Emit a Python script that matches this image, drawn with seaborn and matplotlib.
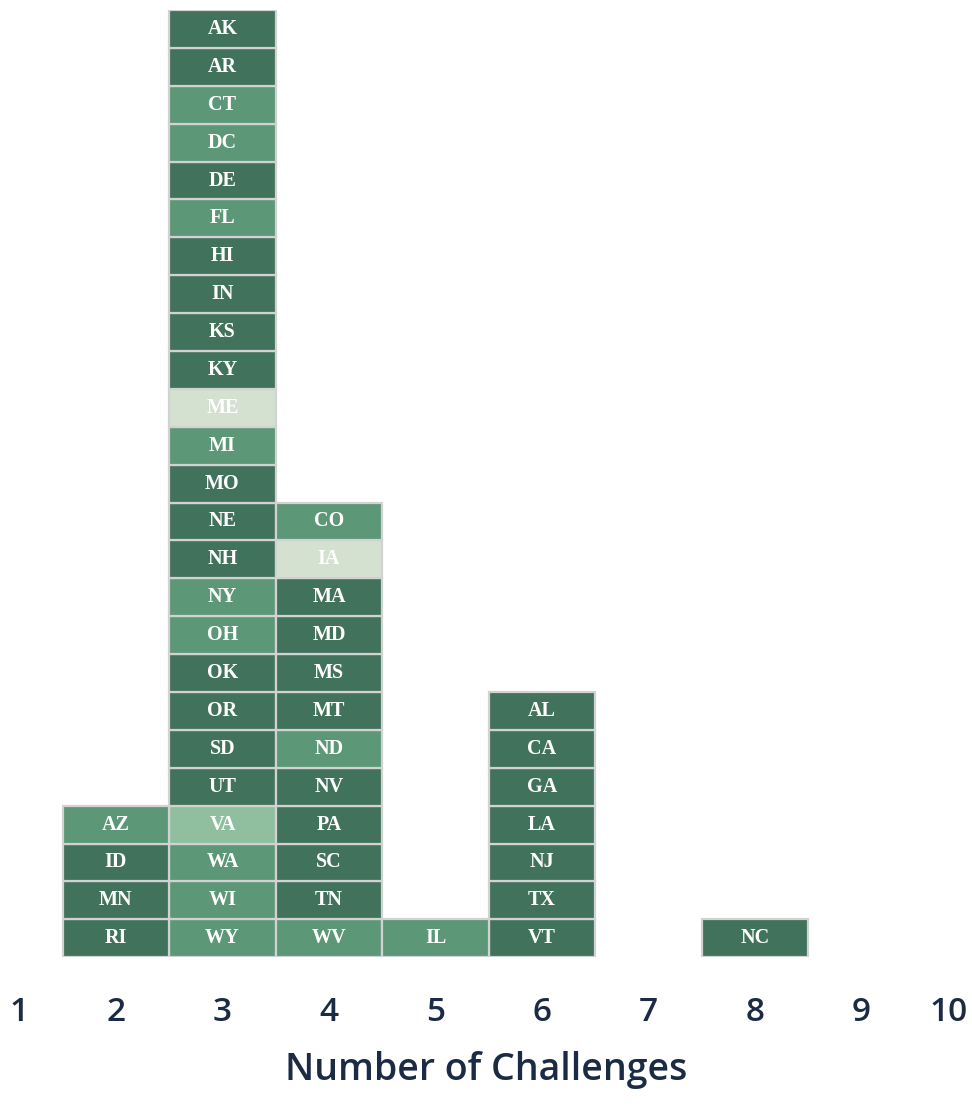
import matplotlib
matplotlib.use("Agg")
import matplotlib.pyplot as plt
import numpy as np
import pandas as pd
import seaborn as sns

# states, number of challenges, colour group (0 dark .. 3 very light)
states = ["AZ", "ID", "MN", "RI",
          "AK", "AR", "CT", "DC", "DE", "FL", "HI", "IN", "KS", "KY", "ME", "MI", "MO",
          "NE", "NH", "NY", "OH", "OK", "OR", "SD", "UT", "VA", "WA", "WI", "WY",
          "CO", "IA", "MA", "MD", "MS", "MT", "ND", "NV", "PA", "SC", "TN", "WV",
          "IL",
          "AL", "CA", "GA", "LA", "NJ", "TX", "VT",
          "NC"]
challenges = [2, 2, 2, 2,
              3, 3, 3, 3, 3, 3, 3, 3, 3, 3, 3, 3, 3,
              3, 3, 3, 3, 3, 3, 3, 3, 3, 3, 3, 3,
              4, 4, 4, 4, 4, 4, 4, 4, 4, 4, 4, 4,
              5,
              6, 6, 6, 6, 6, 6, 6,
              8]
shade = [1, 0, 0, 0,
         0, 0, 1, 1, 0, 1, 0, 0, 0, 0, 3, 1, 0,
         0, 0, 1, 1, 0, 0, 0, 0, 2, 1, 1, 1,
         1, 3, 0, 0, 0, 0, 1, 0, 0, 0, 0, 1,
         1,
         0, 0, 0, 0, 0, 0, 0,
         0]
shade_colors = ["#41725b", "#5c9777", "#8fbf9f", "#d4e1d1"]
x_ticks = list(range(1, 11))

df = pd.DataFrame({"state": states, "challenges": challenges, "shade": shade})
df = df.sort_values("state").reset_index(drop=True)
palette = {s: shade_colors[g] for s, g in zip(df["state"], df["shade"])}

sns.set_style("white")

fig = plt.figure(figsize=(9.72, 11.13), dpi=100)
ax = fig.add_axes([0, 0.140, 1, 0.851])

sns.histplot(data=df, x="challenges", hue="state", hue_order=list(df["state"]),
             multiple="stack", discrete=True, palette=palette, alpha=1,
             edgecolor="#d2d2d2", linewidth=1.6, legend=False, ax=ax)

# drop the empty bins seaborn draws as flat outlines
for p in list(ax.patches):
    if p.get_height() == 0:
        p.remove()

# labels: alphabetical from top, so the last name sits at the bottom
df = df.sort_values(["challenges", "state"], ascending=[True, False])
df["level"] = df.groupby("challenges").cumcount()
for _, row in df.iterrows():
    ax.text(row["challenges"], row["level"] + 0.5, row["state"], ha="center", va="center",
            color="white", fontsize=14.5, fontweight="bold", family="Liberation Serif")

ax.set_xlim(0.911, 10.038)
ax.set_ylim(0, 25)
ax.set_xticks(x_ticks)
ax.set_xticklabels([str(t) for t in x_ticks])
ax.set_yticks([])
ax.set_xlabel("")
ax.set_ylabel("")
ax.tick_params(axis="x", length=0, pad=28, labelsize=24, labelcolor="#1b2b44")
for lab in ax.get_xticklabels():
    lab.set_family("Open Sans")
    lab.set_fontweight("semibold")
ax.get_xticklabels()[0].set_ha("left")
ax.get_xticklabels()[-1].set_ha("right")
for sp in ax.spines.values():
    sp.set_visible(False)

fig.text(0.5, 1 - 1070 / 1113, "Number of Challenges", ha="center", va="center",
         fontsize=27, color="#1b2b44", family="Open Sans", fontweight="semibold")

fig.savefig("out.png", dpi=100)
